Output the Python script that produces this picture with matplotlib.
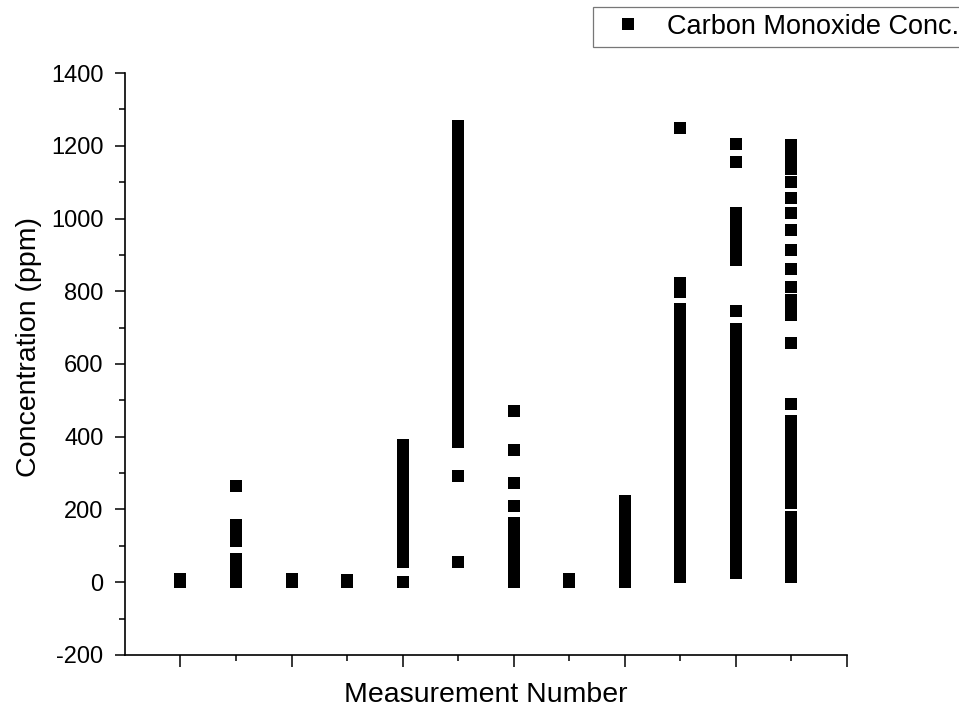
import matplotlib
matplotlib.use("Agg")
import matplotlib.pyplot as plt
from matplotlib.ticker import MultipleLocator, NullFormatter, FixedLocator

plt.rcParams['font.family'] = ['Liberation Sans', 'DejaVu Sans']
plt.rcParams['axes.unicode_minus'] = False

# Concentration values (ppm) for each measurement number 1..12
m1 = [0, 8]
m2 = [0, 3, 8, 15, 25, 40, 52, 64, 114, 125, 140, 156, 264]
m3 = [0, 10]
m4 = [0, 5]
m5 = [0, 56, 80, 105, 130, 155, 180, 205, 230, 255, 280, 305, 330, 355, 376]
m6 = [56, 292, 386, 410, 435, 460, 485, 510, 535, 560, 585, 610, 635, 660,
      685, 710, 735, 760, 785, 810, 835, 860, 885, 910, 935, 960, 985, 1010,
      1035, 1060, 1085, 1110, 1135, 1160, 1185, 1210, 1235, 1255]
m7 = [0, 10, 20, 35, 50, 65, 80, 100, 120, 140, 164, 210, 274, 363, 472]
m8 = [0, 8]
m9 = [0, 20, 45, 70, 95, 120, 145, 170, 195, 222]
m10 = [14, 30, 55, 80, 105, 130, 155, 180, 205, 230, 255, 280, 305, 330, 355,
       380, 405, 430, 455, 480, 505, 530, 555, 580, 605, 630, 655, 680, 705,
       730, 751, 799, 812, 824, 1250]
m11 = [26, 45, 70, 95, 120, 145, 170, 195, 220, 245, 270, 295, 320, 345, 370,
       395, 420, 445, 470, 495, 520, 545, 570, 595, 620, 645, 670, 695, 746,
       887, 910, 935, 960, 985, 1016, 1155, 1206]
m12 = [14, 35, 60, 85, 110, 135, 160, 179, 219, 245, 270, 295, 320, 345, 370,
       395, 420, 442, 490, 659, 736, 755, 776, 811, 862, 914, 969, 1015, 1057,
       1100, 1137, 1160, 1180, 1202]

measurements = [m1, m2, m3, m4, m5, m6, m7, m8, m9, m10, m11, m12]

xs, ys = [], []
for i, vals in enumerate(measurements, start=1):
    xs.extend([i] * len(vals))
    ys.extend(vals)

fig = plt.figure(figsize=(9.59, 7.11), dpi=100)
ax = fig.add_axes([0.1303, 0.0788, 0.8832 - 0.1303, 0.8973 - 0.0788])

ax.plot(xs, ys, linestyle='none', marker='s', markersize=9.2,
        markeredgewidth=0, color='black', label='Carbon Monoxide Conc.')

ax.set_xlim(0, 13)
ax.set_ylim(-200, 1400)

ax.xaxis.set_major_locator(FixedLocator([1, 3, 5, 7, 9, 11, 13]))
ax.xaxis.set_minor_locator(FixedLocator([2, 4, 6, 8, 10, 12]))
ax.xaxis.set_major_formatter(NullFormatter())
ax.yaxis.set_major_locator(MultipleLocator(200))
ax.yaxis.set_minor_locator(MultipleLocator(100))

for s in ['top', 'right']:
    ax.spines[s].set_visible(False)
for s in ['left', 'bottom']:
    ax.spines[s].set_linewidth(1.2)

ax.tick_params(axis='x', which='major', direction='out', length=8.5, width=1.1)
ax.tick_params(axis='x', which='minor', direction='out', length=4, width=1.1)
ax.tick_params(axis='y', which='major', direction='out', length=7.5, width=1.1,
               labelsize=17, pad=8)
ax.tick_params(axis='y', which='minor', direction='out', length=4, width=1.1)

ax.set_xlabel('Measurement Number', fontsize=20.5)
ax.set_ylabel('Concentration (ppm)', fontsize=20.5)
ax.xaxis.set_label_coords(0.5, -0.046)
ax.yaxis.set_label_coords(-0.115, 0.53)

leg = fig.legend(loc='upper left', bbox_to_anchor=(593 / 959, 1 - 7 / 711),
                 fontsize=19.5, frameon=True, fancybox=False, handlelength=2.1,
                 handletextpad=0.4, borderpad=0.25, borderaxespad=0,
                 markerscale=0.95)
leg.get_frame().set_edgecolor('#555555')
leg.get_frame().set_linewidth(0.9)

fig.savefig('out.png', dpi=100)
